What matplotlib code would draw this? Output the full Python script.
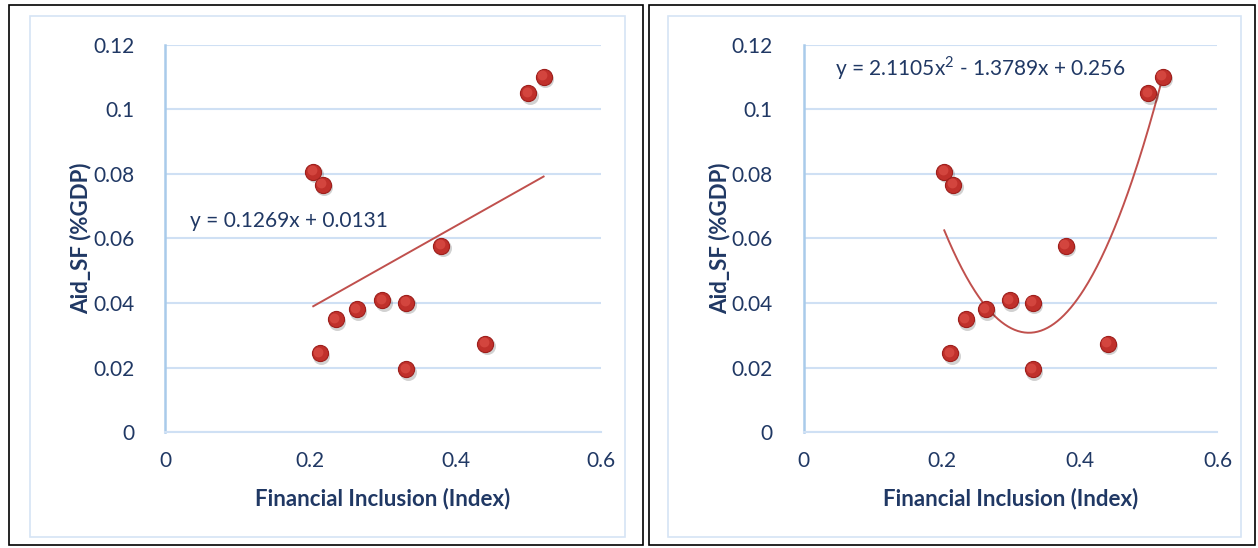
import numpy as np
import matplotlib
matplotlib.use("Agg")
import matplotlib.pyplot as plt
from matplotlib.patches import Rectangle
from matplotlib.transforms import offset_copy

plt.rcParams['font.family'] = ['Lato', 'DejaVu Sans']
plt.rcParams['mathtext.fontset'] = 'custom'
plt.rcParams['mathtext.rm'] = 'Lato'

# data
fin_incl = [0.204, 0.217, 0.213, 0.235, 0.264, 0.299, 0.332, 0.332, 0.380, 0.441, 0.500, 0.521]
aid_sf = [0.0807, 0.0766, 0.0244, 0.0350, 0.0381, 0.0409, 0.0401, 0.0195, 0.0577, 0.0273, 0.1050, 0.1102]

lin_coef = [0.1269, 0.0131]
quad_coef = [2.1105, -1.3789, 0.256]
lin_label = 'y = 0.1269x + 0.0131'
quad_label = r'y = 2.1105x$^\mathrm{2}$ - 1.3789x + 0.256'

xticks = [0, 0.2, 0.4, 0.6]
yticks = [0, 0.02, 0.04, 0.06, 0.08, 0.1, 0.12]
xtick_labels = ['0', '0.2', '0.4', '0.6']
ytick_labels = ['0', '0.02', '0.04', '0.06', '0.08', '0.1', '0.12']

W, H = 1258, 548
txt_col = '#203864'
grid_col = '#cfe0f4'
axis_col = '#a9cbea'
red = '#c0302b'

fig = plt.figure(figsize=(W / 100, H / 100), dpi=100)


def px_rect(x0, y0, x1, y1, **kw):
    # rectangle given in pixel coords from top-left
    fig.patches.append(Rectangle((x0 / W, 1 - y1 / H), (x1 - x0) / W, (y1 - y0) / H,
                                 transform=fig.transFigure, fill=False, **kw))


# outer frames
px_rect(9, 5, 643, 545, edgecolor='black', linewidth=1.2)
px_rect(649, 5, 1255, 545, edgecolor='black', linewidth=1.2)
px_rect(30, 16, 625, 537, edgecolor='#d6e4f5', linewidth=1.2)
px_rect(668, 16, 1241, 537, edgecolor='#d6e4f5', linewidth=1.2)


def panel(left_px, right_px, coef, label, lab_xy):
    ax = fig.add_axes([left_px / W, (H - 432) / H, (right_px - left_px) / W, 387 / H])
    ax.set_xlim(0, 0.6)
    ax.set_ylim(0, 0.12)
    ax.set_xticks(xticks, xtick_labels)
    ax.set_yticks(yticks, ytick_labels)
    ax.tick_params(length=0, labelsize=15, labelcolor=txt_col)
    ax.tick_params(axis='y', pad=22)
    ax.tick_params(axis='x', pad=14)
    for s in ['top', 'right']:
        ax.spines[s].set_visible(False)
    ax.spines['left'].set_color(axis_col)
    ax.spines['left'].set_linewidth(1.8)
    ax.spines['bottom'].set_color(grid_col)
    ax.spines['bottom'].set_linewidth(1.5)
    ax.yaxis.grid(True, color=grid_col, linewidth=1.5)
    ax.set_axisbelow(True)

    ax.set_xlabel('Financial Inclusion (Index)', fontsize=16, fontweight='bold',
                  color=txt_col, labelpad=12)
    ax.set_ylabel('Aid_SF (%GDP)', fontsize=16, fontweight='bold',
                  color=txt_col, labelpad=1)

    # trendline
    xs = np.linspace(min(fin_incl), max(fin_incl), 200)
    ax.plot(xs, np.polyval(coef, xs), color='#c0504d', linewidth=1.4, zorder=3)

    # shaded marker: shadow, body, highlight
    shadow = offset_copy(ax.transData, fig=fig, x=1.5, y=-2.5, units='dots')
    ax.scatter(fin_incl, aid_sf, s=150, color='#000000', alpha=0.18, linewidths=0,
               transform=shadow, zorder=4)
    ax.scatter(fin_incl, aid_sf, s=135, color=red, edgecolor='#9e1f1c', linewidths=0.8, zorder=5)
    hi = offset_copy(ax.transData, fig=fig, x=-1.5, y=1.5, units='dots')
    ax.scatter(fin_incl, aid_sf, s=50, color='#d94b44', linewidths=0, alpha=0.8,
               transform=hi, zorder=6)

    ax.text(lab_xy[0], lab_xy[1], label, fontsize=15, color=txt_col, va='center', ha='left')
    return ax


panel(165, 601, lin_coef, lin_label, (0.034, 0.0655))
panel(803.5, 1217.5, quad_coef, quad_label, (0.045, 0.113))

fig.savefig('out.png', dpi=100)
